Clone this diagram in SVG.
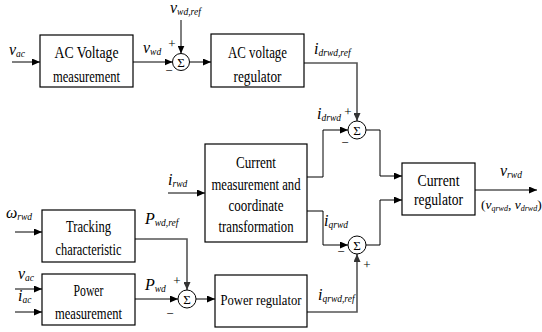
<svg xmlns="http://www.w3.org/2000/svg" width="542" height="332" viewBox="0 0 542 332" font-family="Liberation Serif, serif">
<style>
.box{fill:#fff;stroke:#000;stroke-width:1.2}
.sum{fill:#fff;stroke:#000;stroke-width:1}
.t{font-family:'Liberation Serif',serif;font-size:16.5px;text-anchor:middle;fill:#000}
.l{font-family:'Liberation Serif',serif;font-size:16px;font-style:italic;fill:#000}
.s{font-size:9.5px}
.sg{font-family:'Liberation Serif',serif;font-size:13px;text-anchor:middle;fill:#000}
.w{fill:none;stroke:#000;stroke-width:1}
.g{fill:none;stroke:#555;stroke-width:1.6}
</style>
<defs>
<marker id="ab" markerUnits="userSpaceOnUse" markerWidth="8" markerHeight="7" refX="8" refY="3.5" orient="auto"><path d="M0,0 L8,3.5 L0,7 z" fill="#000"/></marker>
<marker id="ag" markerUnits="userSpaceOnUse" markerWidth="8" markerHeight="7" refX="8" refY="3.5" orient="auto"><path d="M0,0 L8,3.5 L0,7 z" fill="#333"/></marker>
</defs>
<rect width="542" height="332" fill="#fff"/>

<g id="connectors">
<path class="w" d="M12,62 H40" marker-end="url(#ab)"/>
<path class="w" d="M133,62 H172.5" marker-end="url(#ab)"/>
<path class="w" d="M181,20 V53.5" marker-end="url(#ab)"/>
<path class="w" d="M189.5,62 H211" marker-end="url(#ab)"/>
<path class="g" d="M304,63 H357 V121" marker-end="url(#ag)"/>
<path class="w" d="M307,177 H323 V130 H348" marker-end="url(#ab)"/>
<path class="w" d="M307,211 H323 V245 H348" marker-end="url(#ab)"/>
<path class="w" d="M366,130 H380 V176 H402" marker-end="url(#ab)"/>
<path class="w" d="M366,245 H380 V200 H402" marker-end="url(#ab)"/>
<path class="w" d="M475,190 H537" marker-end="url(#ab)"/>
<path class="w" d="M168,193 H205" marker-end="url(#ab)"/>
<path class="g" d="M307,312 H357 V254" marker-end="url(#ag)"/>
<path class="w" d="M15,232 H42" marker-end="url(#ab)"/>
<path class="w" d="M15,289 H42" marker-end="url(#ab)"/>
<path class="w" d="M15,312 H42" marker-end="url(#ab)"/>
<path class="g" d="M135,239 H187 V290" marker-end="url(#ag)"/>
<path class="w" d="M135,299 H178" marker-end="url(#ab)"/>
<path class="w" d="M196,299 H215" marker-end="url(#ab)"/>
</g>

<g id="ac-voltage-measurement">
<rect class="box" x="40" y="35" width="93" height="52"/>
<text class="t" x="86.5" y="57.5" textLength="64" lengthAdjust="spacingAndGlyphs">AC Voltage</text>
<text class="t" x="86.5" y="81.5" textLength="67" lengthAdjust="spacingAndGlyphs">measurement</text>
</g>

<g id="sum1">
<circle class="sum" cx="181" cy="62" r="8.5"/>
<text class="sg" x="181" y="66.5">Σ</text>
<text class="sg" x="172" y="48">+</text>
<text class="sg" x="169" y="75">−</text>
</g>

<g id="ac-voltage-regulator">
<rect class="box" x="211" y="34" width="93" height="53"/>
<text class="t" x="257.5" y="57.5" textLength="59" lengthAdjust="spacingAndGlyphs">AC voltage</text>
<text class="t" x="257.5" y="81.5" textLength="48" lengthAdjust="spacingAndGlyphs">regulator</text>
</g>

<g id="sum2">
<circle class="sum" cx="357" cy="130" r="9"/>
<text class="sg" x="357" y="134.5">Σ</text>
<text class="sg" x="348" y="116">+</text>
<text class="sg" x="345" y="147">−</text>
</g>

<g id="current-measurement">
<rect class="box" x="205" y="144" width="102" height="98"/>
<text class="t" x="256" y="168" textLength="40" lengthAdjust="spacingAndGlyphs">Current</text>
<text class="t" x="256" y="189.5" textLength="89" lengthAdjust="spacingAndGlyphs">measurement and</text>
<text class="t" x="256" y="210.5" textLength="55" lengthAdjust="spacingAndGlyphs">coordinate</text>
<text class="t" x="256" y="232" textLength="75" lengthAdjust="spacingAndGlyphs">transformation</text>
</g>

<g id="sum3">
<circle class="sum" cx="357" cy="245" r="9"/>
<text class="sg" x="357" y="249.5">Σ</text>
<text class="sg" x="367" y="269">+</text>
<text class="sg" x="341" y="256">−</text>
</g>

<g id="current-regulator">
<rect class="box" x="402" y="163" width="73" height="52"/>
<text class="t" x="438.5" y="185.5" textLength="42" lengthAdjust="spacingAndGlyphs">Current</text>
<text class="t" x="438.5" y="205" textLength="49" lengthAdjust="spacingAndGlyphs">regulator</text>
</g>

<g id="tracking-characteristic">
<rect class="box" x="42" y="210" width="93" height="52"/>
<text class="t" x="88.5" y="232" textLength="45" lengthAdjust="spacingAndGlyphs">Tracking</text>
<text class="t" x="88.5" y="255" textLength="66" lengthAdjust="spacingAndGlyphs">characteristic</text>
</g>

<g id="power-measurement">
<rect class="box" x="42" y="274" width="93" height="51"/>
<text class="t" x="88.5" y="296" textLength="30" lengthAdjust="spacingAndGlyphs">Power</text>
<text class="t" x="88.5" y="318.5" textLength="67" lengthAdjust="spacingAndGlyphs">measurement</text>
</g>

<g id="sum4">
<circle class="sum" cx="187" cy="299" r="9"/>
<text class="sg" x="187" y="303.5">Σ</text>
<text class="sg" x="177" y="285">+</text>
<text class="sg" x="170" y="318">−</text>
</g>

<g id="power-regulator">
<rect class="box" x="215" y="275" width="92" height="52"/>
<text class="t" x="261" y="305" style="font-size:15px" textLength="81" lengthAdjust="spacingAndGlyphs">Power regulator</text>
</g>

<g id="labels">
<text class="l" x="9" y="55">v<tspan class="s" dy="2">ac</tspan></text>
<text class="l" x="143" y="53">v<tspan class="s" dy="2">wd</tspan></text>
<text class="l" x="170" y="13">v<tspan class="s" dy="2">wd,ref</tspan></text>
<text class="l" x="314" y="54">i<tspan class="s" dy="2">drwd,ref</tspan></text>
<text class="l" x="317" y="119">i<tspan class="s" dy="2">drwd</tspan></text>
<text class="l" x="168" y="185">i<tspan class="s" dy="2">rwd</tspan></text>
<text class="l" x="324" y="226">i<tspan class="s" dy="2">qrwd</tspan></text>
<text class="l" x="318" y="300">i<tspan class="s" dy="2">qrwd,ref</tspan></text>
<text class="l" x="500" y="176">v<tspan class="s" dy="2">rwd</tspan></text>
<text class="l" x="481" y="209" style="font-size:13.5px"><tspan font-style="normal">(</tspan>v<tspan font-size="8" dy="2">qrwd</tspan><tspan dy="-2" font-style="normal">, </tspan>v<tspan font-size="8" dy="2">drwd</tspan><tspan dy="-2" font-style="normal">)</tspan></text>
<text class="l" x="6" y="218">ω<tspan class="s" dy="2">rwd</tspan></text>
<text class="l" x="18" y="279">v<tspan class="s" dy="2">ac</tspan></text>
<text class="l" x="18" y="301">i<tspan class="s" dy="2">ac</tspan></text>
<text class="l" x="145" y="224">P<tspan class="s" dy="2">wd,ref</tspan></text>
<text class="l" x="145" y="290">P<tspan class="s" dy="2">wd</tspan></text>
</g>
</svg>
